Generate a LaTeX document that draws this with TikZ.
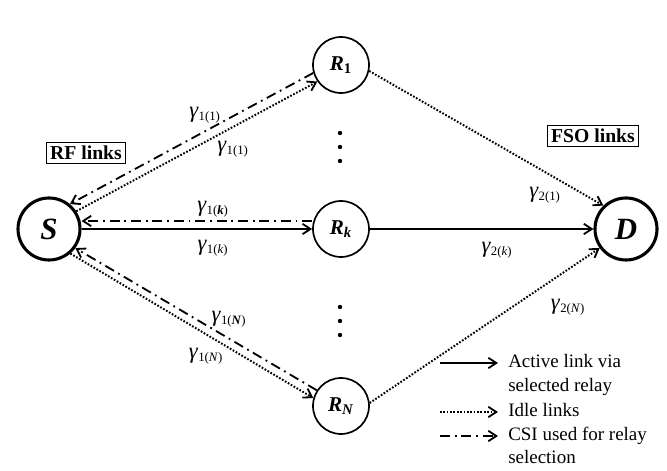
\documentclass[tikz,border=0pt]{standalone}
\usepackage{fontspec}
\setmainfont{Liberation Serif}
\usetikzlibrary{arrows.meta}

\newcommand{\gm}[2]{{\fontsize{16}{16}\selectfont\textit{γ}}\textsubscript{#1(#2)}}
\newcommand{\bi}[1]{\textbf{\textit{#1}}}

\begin{document}
\begin{tikzpicture}[>={Straight Barb[length=2mm,width=2.6mm,line width=1.3pt]},
  endnode/.style={circle, draw, line width=2.2pt, minimum size=1.55cm, inner sep=0pt, font=\fontsize{22}{24}\selectfont},
  relay/.style={circle, draw, line width=1.2pt, minimum size=1.4cm, inner sep=0pt, font=\fontsize{15}{17}\selectfont},
  active/.style={->, line width=1.4pt},
  idle/.style={->, line width=1.4pt, dash pattern=on 1.2pt off 1.2pt},
  csi/.style={->, line width=1.3pt, dash pattern=on 2.5mm off 1.2mm on 0.45mm off 1.2mm},
  lbl/.style={font=\fontsize{13}{15}\selectfont},
  tag/.style={draw, line width=0.6pt, inner sep=2.5pt, font=\fontsize{14}{16}\selectfont\bfseries},
  legtext/.style={anchor=west, inner sep=0pt, text height=9pt, text depth=3pt, font=\fontsize{13.5}{16}\selectfont}]
  \useasboundingbox (0,0) rectangle (16.675,11.775);

  \node[endnode] (s) at (1.225,6.05) {\bi{S}};
  \node[endnode] (d) at (15.65,6.05) {\bi{D}};
  \node[relay] (r1) at (8.525,10.15) {\bi{R}\textsubscript{\textbf{1}}};
  \node[relay] (rk) at (8.525,6.05) {\bi{R}\textsubscript{\bi{k}}};
  \node[relay] (rn) at (8.525,1.625) {\bi{R}\textsubscript{\bi{N}}};

  \foreach \y in {8.45,8.1,7.75,4.1,3.75,3.4}
    \fill (8.5,\y) circle (0.055);

  % RF hops
  \draw[csi] (r1.196) -- (s.50);
  \draw[idle] (s.33) -- (r1.215);
  \draw[csi] ([yshift=0.2cm]rk.west) -- ([yshift=0.2cm]s.east);
  \draw[active] (s.east) -- (rk.west);
  \draw[csi] (rn.147) -- (s.324);
  \draw[idle] (s.311) -- (rn.164);

  % FSO hops
  \draw[idle] (r1.348) -- (d.134);
  \draw[active] (rk.east) -- (d.west);
  \draw[idle] (rn.6) -- (d.216);

  \node[lbl] (g11a) at (5.125,8.9) {\gm{1}{1}};
  \node[lbl] (g11b) at (5.825,8.05) {\gm{1}{1}};
  \node[lbl] (g1ka) at (5.325,6.55) {\gm{1}{\bi{k}}};
  \node[lbl] (g1kb) at (5.325,5.575) {\gm{1}{\textit{k}}};
  \node[lbl] (g1na) at (5.725,3.8) {\gm{1}{\bi{N}}};
  \node[lbl] (g1nb) at (5.15,2.875) {\gm{1}{\textit{N}}};
  \node[lbl] (g21) at (13.625,6.9) {\gm{2}{1}};
  \node[lbl] (g2k) at (12.425,5.525) {\gm{2}{\textit{k}}};
  \node[lbl] (g2n) at (14.2,4.1) {\gm{2}{\textit{N}}};

  \node[tag] (rf) at (2.15,7.95) {RF links};
  \node[tag] (fso) at (14.825,8.375) {FSO links};

  % legend
  \coordinate (a1) at (11.0,2.7);
  \coordinate (a2) at (11.0,1.475);
  \coordinate (a3) at (11.0,0.875);
  \node[legtext] (t1) at (12.7,2.7) {Active link via};
  \node[legtext] (t1b) at (12.7,2.1) {selected relay};
  \node[legtext] (t2) at (12.7,1.475) {Idle links};
  \node[legtext] (t3) at (12.7,0.875) {CSI used for relay};
  \node[legtext] (t3b) at (12.7,0.3) {selection};
  \draw[active] (a1) -- ([xshift=-0.25cm]t1.west);
  \draw[idle] (a2) -- ([xshift=-0.25cm]t2.west);
  \draw[csi] (a3) -- ([xshift=-0.25cm]t3.west);
\end{tikzpicture}
\end{document}
